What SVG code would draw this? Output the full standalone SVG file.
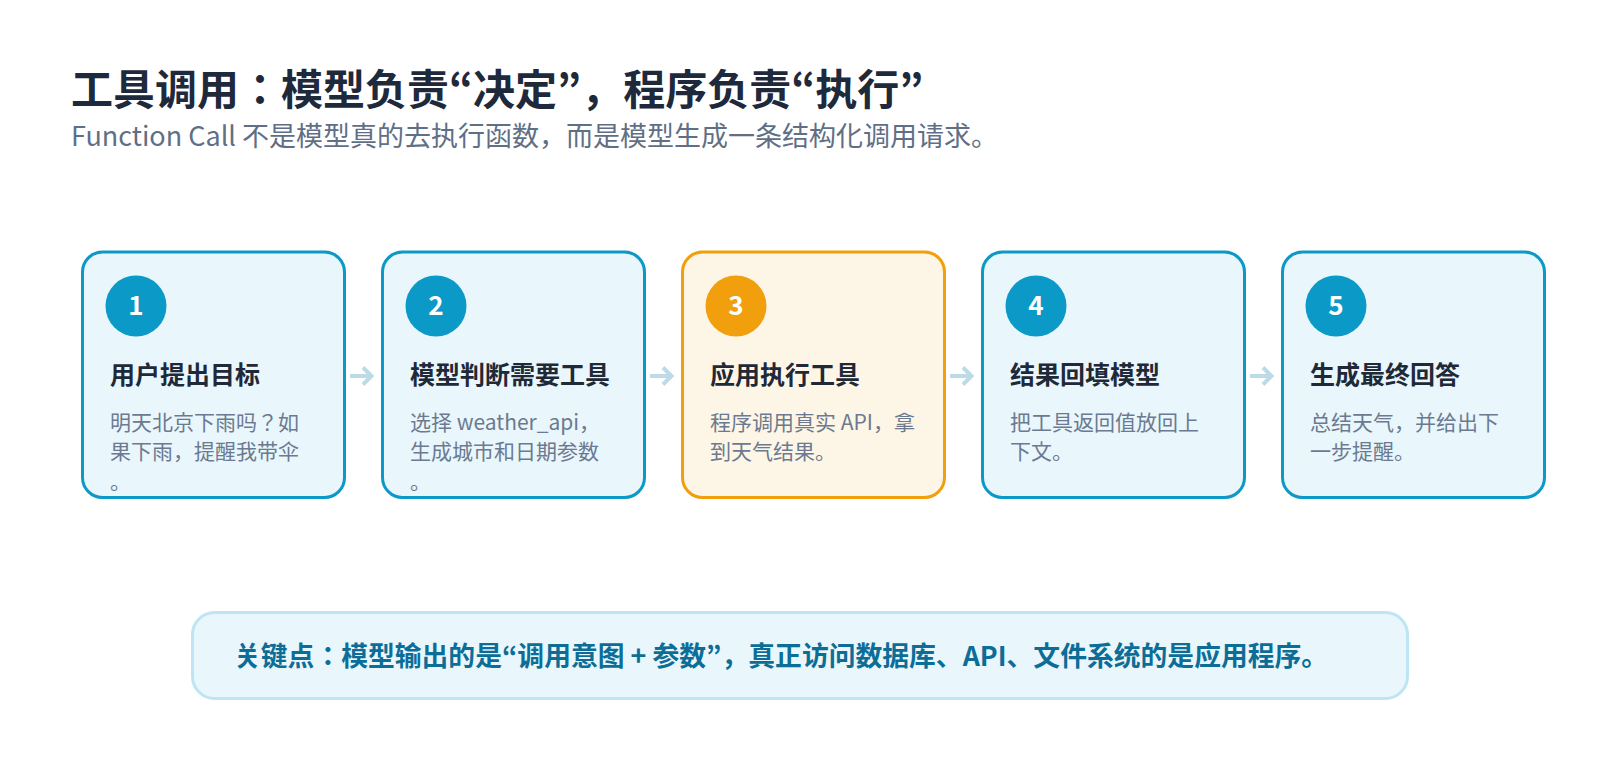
<svg xmlns="http://www.w3.org/2000/svg" width="1600" height="760" viewBox="0 0 1600 760">
<style>
text{font-family:"Noto Sans CJK JP","Noto Sans CJK SC","Noto Sans",sans-serif}
.title{font-size:42px;font-weight:700;fill:#1e293b}
.sub{font-size:27px;fill:#5f6f86}
.box{fill:#e9f6fc;stroke:#0b99c7;stroke-width:3}
.box.hl{fill:#fdf6e6;stroke:#f29f0d}
.num{fill:#0b99c7}
.num.hl{fill:#f29f0d}
.numt{font-size:26px;font-weight:700;fill:#ffffff;text-anchor:middle}
.bt{font-size:25px;font-weight:700;fill:#1f2937}
.bd{font-size:21px;fill:#6b7a90}
.arr{fill:none;stroke:#bddbe6;stroke-width:4;stroke-linecap:butt;stroke-linejoin:miter}
.key{fill:#e9f6fc;stroke:#bde5f4;stroke-width:3}
.kt{font-size:26.8px;font-weight:700;fill:#0c6e97}
</style>
<rect width="1600" height="760" fill="#ffffff"/>
<g id="header">
<text class="title" x="71" y="105">工具调用：模型负责“决定”，程序负责“执行”</text>
<text class="sub" x="71" y="146">Function Call 不是模型真的去执行函数，而是模型生成一条结构化调用请求。</text>
</g>
<g id="connectors">
<path class="arr" d="M350 376 H371 M363 367.5 L371.5 376 L363 384.5"/>
<path class="arr" d="M650 376 H671 M663 367.5 L671.5 376 L663 384.5"/>
<path class="arr" d="M950 376 H971 M963 367.5 L971.5 376 L963 384.5"/>
<path class="arr" d="M1250 376 H1271 M1263 367.5 L1271.5 376 L1263 384.5"/>
</g>
<g id="step1">
<rect class="box" x="82.5" y="252" width="262" height="245.5" rx="20"/>
<circle class="num" cx="136" cy="306" r="30.5"/>
<text class="numt" x="136" y="315">1</text>
<text class="bt" x="110" y="384">用户提出目标</text>
<text class="bd" x="110" y="430">明天北京下雨吗？如</text>
<text class="bd" x="110" y="459">果下雨，提醒我带伞</text>
<text class="bd" x="110" y="489">。</text>
</g>
<g id="step2">
<rect class="box" x="382.5" y="252" width="262" height="245.5" rx="20"/>
<circle class="num" cx="436" cy="306" r="30.5"/>
<text class="numt" x="436" y="315">2</text>
<text class="bt" x="410" y="384">模型判断需要工具</text>
<text class="bd" x="410" y="430">选择 weather_api，</text>
<text class="bd" x="410" y="459">生成城市和日期参数</text>
<text class="bd" x="410" y="489">。</text>
</g>
<g id="step3">
<rect class="box hl" x="682.5" y="252" width="262" height="245.5" rx="20"/>
<circle class="num hl" cx="736" cy="306" r="30.5"/>
<text class="numt" x="736" y="315">3</text>
<text class="bt" x="710" y="384">应用执行工具</text>
<text class="bd" x="710" y="430">程序调用真实 API，拿</text>
<text class="bd" x="710" y="459">到天气结果。</text>
</g>
<g id="step4">
<rect class="box" x="982.5" y="252" width="262" height="245.5" rx="20"/>
<circle class="num" cx="1036" cy="306" r="30.5"/>
<text class="numt" x="1036" y="315">4</text>
<text class="bt" x="1010" y="384">结果回填模型</text>
<text class="bd" x="1010" y="430">把工具返回值放回上</text>
<text class="bd" x="1010" y="459">下文。</text>
</g>
<g id="step5">
<rect class="box" x="1282.5" y="252" width="262" height="245.5" rx="20"/>
<circle class="num" cx="1336" cy="306" r="30.5"/>
<text class="numt" x="1336" y="315">5</text>
<text class="bt" x="1310" y="384">生成最终回答</text>
<text class="bd" x="1310" y="430">总结天气，并给出下</text>
<text class="bd" x="1310" y="459">一步提醒。</text>
</g>
<g id="keypoint">
<rect class="key" x="192.5" y="612.5" width="1215" height="86" rx="22"/>
<text class="kt" x="234" y="666">关键点：模型输出的是“调用意图 + 参数”，真正访问数据库、API、文件系统的是应用程序。</text>
</g>
</svg>
